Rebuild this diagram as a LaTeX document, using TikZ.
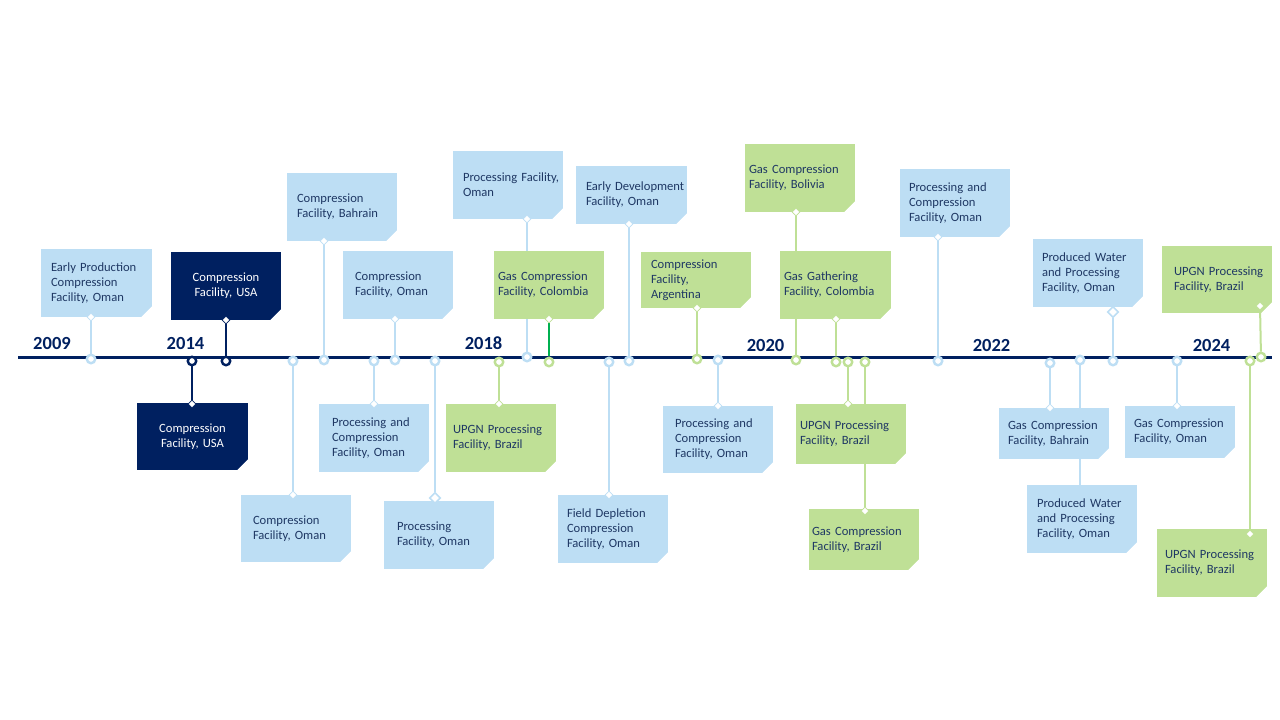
\documentclass[tikz,border=0pt]{standalone}
\usepackage{fontspec}
\setmainfont{Carlito}
\usetikzlibrary{shapes.geometric,backgrounds}
\definecolor{lb}{RGB}{189,222,244}
\definecolor{gr}{RGB}{191,224,150}
\definecolor{bgreen}{RGB}{0,176,80}
\definecolor{nv}{RGB}{0,32,96}
\definecolor{tx}{RGB}{31,56,100}
\hyphenpenalty=10000
\exhyphenpenalty=10000
\hbadness=10000
\hfuzz=100pt
\tikzset{
  box/.style n args={3}{minimum width=#1pt, minimum height=#2pt, text width=#3pt,
    inner sep=0pt, align=left, font=\fontsize{12.6}{15}\selectfont, text=tx},
  bluebox/.style={fill=lb},
  greenbox/.style={fill=gr},
  navybox/.style={fill=nv, text=white, align=center},
  dot/.style={circle, minimum size=8.5pt, inner sep=0pt, fill=white, line width=2.4pt, draw=#1},
  dia/.style={diamond, minimum size=8pt, inner sep=0pt, fill=white, draw=#1, line width=0.6pt},
  diaout/.style={diamond, minimum size=11pt, inner sep=0pt, fill=white, draw=#1, line width=1.6pt},
  conn/.style={line width=2pt, draw=#1},
  yearlbl/.style={font=\fontsize{18.5}{20}\selectfont\bfseries, text=nv, inner sep=0pt},
}
\begin{document}
\begin{tikzpicture}[x=1pt,y=-1pt]
\useasboundingbox (0,0) rectangle (1280,720);
% timeline
\coordinate (tl0) at (18,357);
\coordinate (tl1) at (1272,357);
\draw[line width=3pt, nv] (tl0) -- (tl1);
% years
\node[yearlbl] (y2009) at (52,343) {2009};
\node[yearlbl] (y2014) at (185.5,343) {2014};
\node[yearlbl] (y2018) at (483.5,343) {2018};
\node[yearlbl] (y2020) at (765.5,345.5) {2020};
\node[yearlbl] (y2022) at (991.5,345) {2022};
\node[yearlbl] (y2024) at (1211.5,345) {2024};
% circles (top items)
\node[dot=lb] (c1) at (91,359) {};
\node[dot=nv] (c2) at (226,361) {};
\node[dot=lb] (c3) at (324,360) {};
\node[dot=lb] (c4) at (395,360) {};
\node[dot=lb] (c5) at (527,357) {};
\node[dot=gr] (c6) at (549,362) {};
\node[dot=lb] (c7) at (629,361) {};
\node[dot=gr] (c8) at (697,359) {};
\node[dot=gr] (c9) at (796,360) {};
\node[dot=gr] (c10) at (836,362) {};
\node[dot=lb] (c11) at (938,361) {};
\node[dot=lb] (c12) at (1113,361) {};
\node[dot=gr] (c13) at (1261,357) {};
% circles (bottom items)
\node[dot=nv] (e1) at (192,361) {};
\node[dot=lb] (e2) at (293,361) {};
\node[dot=lb] (e3) at (374,361) {};
\node[dot=lb] (e4) at (435,361) {};
\node[dot=gr] (e5) at (499,362) {};
\node[dot=lb] (e6) at (609,362) {};
\node[dot=lb] (e7) at (718,360) {};
\node[dot=gr] (e8) at (848,362) {};
\node[dot=gr] (e9) at (865,362) {};
\node[dot=lb] (e10) at (1050,363) {};
\node[dot=lb] (e11) at (1080,360) {};
\node[dot=lb] (e12) at (1177,361) {};
\node[dot=gr] (e13) at (1250,361) {};
% top boxes
\node[box={111}{68}{91}, bluebox] (t1) at (96.5,283) {Early~Production\\Compression\\Facility,~Oman};
\node[box={110}{68}{100}, navybox] (t2) at (226,286) {Compression\\Facility,~USA};
\node[box={110}{68}{90}, bluebox] (t3) at (342,207) {Compression\\Facility,~Bahrain};
\node[box={110}{68}{86}, bluebox] (t4) at (398,285) {Compression\\Facility,~Oman};
\node[box={110}{68}{90}, bluebox] (t5) at (508,185) {Processing~Facility,\\Oman};
\node[box={110}{68}{102}, greenbox] (t6) at (549,285) {Gas~Compression\\Facility,~Colombia};
\node[box={111}{58}{91}, bluebox] (t7) at (631.5,195) {Early~Development\\Facility,~Oman};
\node[box={110}{56}{90}, greenbox] (t8) at (696,280) {Compression\\Facility,\\Argentina};
\node[box={110}{68}{102}, greenbox] (t9) at (800,178) {Gas~Compression\\Facility,~Bolivia};
\node[box={111}{68}{103}, greenbox] (t10) at (835.5,285) {Gas~Gathering\\Facility,~Colombia};
\node[box={110}{68}{92}, bluebox] (t11) at (955,203) {Processing~and\\Compression\\Facility,~Oman};
\node[box={110}{68}{92}, bluebox] (t12) at (1088,273) {Produced~Water\\and~Processing\\Facility,~Oman};
\node[box={110}{67}{86}, greenbox] (t13) at (1217,279.5) {UPGN~Processing\\Facility,~Brazil};
% bottom boxes
\node[box={111}{67}{100}, navybox] (b1) at (192.5,436.5) {Compression\\Facility,~USA};
\node[box={110}{67}{86}, bluebox] (b2) at (296,528.5) {Compression\\Facility,~Oman};
\node[box={110}{68}{84}, bluebox] (b3) at (374,438) {Processing~and\\Compression\\Facility,~Oman};
\node[box={110}{68}{84}, bluebox] (b4) at (439,535) {Processing\\Facility,~Oman};
\node[box={110}{68}{96}, greenbox] (b5) at (501,438) {UPGN~Processing\\Facility,~Brazil};
\node[box={110}{68}{92}, bluebox] (b6) at (613,529) {Field~Depletion\\Compression\\Facility,~Oman};
\node[box={110}{67}{86}, bluebox] (b7) at (718,439.5) {Processing~and\\Compression\\Facility,~Oman};
\node[box={110}{60}{102}, greenbox] (b8) at (851,434) {UPGN~Processing\\Facility,~Brazil};
\node[box={110}{61}{104}, greenbox] (b9) at (864,539.5) {Gas~Compression\\Facility,~Brazil};
\node[box={110}{51}{92}, bluebox] (b10) at (1054,433.5) {Gas~Compression\\Facility,~Bahrain};
\node[box={110}{68}{90}, bluebox] (b11) at (1082,519) {Produced~Water\\and~Processing\\Facility,~Oman};
\node[box={110}{52}{92}, bluebox] (b12) at (1180,432) {Gas~Compression\\Facility,~Oman};
\node[box={110}{68}{94}, greenbox] (b13) at (1212,563) {UPGN~Processing\\Facility,~Brazil};
% snipped corners
\foreach \p in {t,b}{
  \foreach \i in {1,...,13}{
    \fill[white] (\p\i.south east) -- ++(-11,0) -- ++(11,-11) -- cycle;
  }
}
% diamonds (top)
\node[dia=lb] (d1) at (91,317) {};
\node[dia=nv] (d2) at (226,320) {};
\node[dia=lb] (d3) at (324,241) {};
\node[dia=lb] (d4) at (395,319) {};
\node[dia=lb] (d5) at (527,219) {};
\node[dia=gr] (d6) at (549,319) {};
\node[dia=lb] (d7) at (629,224) {};
\node[dia=gr] (d8) at (697,308) {};
\node[dia=gr] (d9) at (796,212) {};
\node[dia=gr] (d10) at (836,319) {};
\node[dia=lb] (d11) at (938,237) {};
\node[diaout=lb] (d12) at (1113,312) {};
\node[dia=gr] (d13) at (1260,306) {};
% diamonds (bottom)
\node[dia=nv] (f1) at (192,404) {};
\node[dia=lb] (f2) at (293,495) {};
\node[dia=lb] (f3) at (374,404) {};
\node[diaout=lb] (f4) at (435,498) {};
\node[dia=gr] (f5) at (499,404) {};
\node[dia=lb] (f6) at (609,495) {};
\node[dia=lb] (f7) at (718,406) {};
\node[dia=gr] (f8) at (848,404) {};
\node[dia=gr] (f9) at (865,511) {};
\node[dia=lb] (f10) at (1050,408) {};
\node[dia=lb] (f12) at (1177,406) {};
\node[dia=gr] (f13) at (1250,534) {};
% connectors behind everything
\begin{scope}[on background layer]
\fill[white] (0,0) rectangle (1280,720);
\draw[conn=lb] (d1) -- (c1);
\draw[conn=nv] (d2) -- (c2);
\draw[conn=lb] (d3) -- (c3);
\draw[conn=lb] (d4) -- (c4);
\draw[conn=lb] (d5) -- (c5);
\draw[conn=bgreen] (d6) -- (c6);
\draw[conn=lb] (d7) -- (c7);
\draw[conn=gr] (d8) -- (c8);
\draw[conn=gr] (d9) -- (c9);
\draw[conn=gr] (d10) -- (c10);
\draw[conn=lb] (d11) -- (c11);
\draw[conn=lb] (d12) -- (c12);
\draw[conn=gr] (d13) -- (c13);
\draw[conn=nv] (e1) -- (f1);
\draw[conn=lb] (e2) -- (f2);
\draw[conn=lb] (e3) -- (f3);
\draw[conn=lb] (e4) -- (f4);
\draw[conn=gr] (e5) -- (f5);
\draw[conn=lb] (e6) -- (f6);
\draw[conn=lb] (e7) -- (f7);
\draw[conn=gr] (e8) -- (f8);
\draw[conn=gr] (e9) -- (f9);
\draw[conn=lb] (e10) -- (f10);
\draw[conn=lb] (e11) -- (e11 |- b11.north);
\draw[conn=lb] (e12) -- (f12);
\draw[conn=gr] (e13) -- (f13);
\end{scope}
\end{tikzpicture}
\end{document}
